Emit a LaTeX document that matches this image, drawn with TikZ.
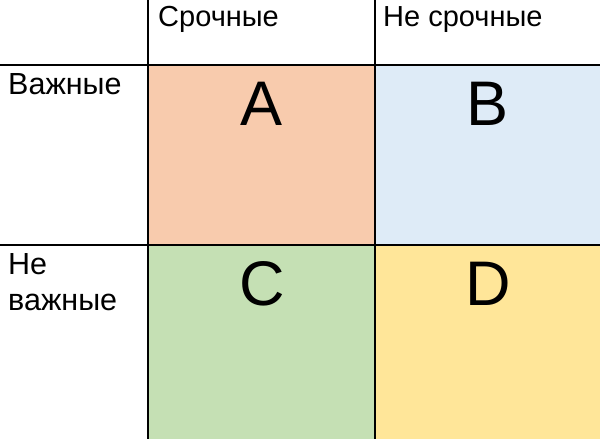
\documentclass[tikz,border=0pt]{standalone}
\usepackage{fontspec}
\setmainfont{Liberation Sans}
\definecolor{cA}{HTML}{F8CBAD}
\definecolor{cB}{HTML}{DEEBF7}
\definecolor{cC}{HTML}{C5E0B4}
\definecolor{cD}{HTML}{FFE699}
\tikzset{
  cell/.style={draw=none, inner sep=0pt, outer sep=0pt, anchor=north west},
  letter/.style={inner sep=0pt, anchor=base, font=\fontsize{63}{75}\selectfont},
  hlbl/.style={inner sep=0pt, anchor=base west, font=\fontsize{29}{36.7}\selectfont},
  rlbl/.style={inner sep=0pt, anchor=base west, align=left, font=\fontsize{30.5}{36.7}\selectfont},
  gridline/.style={draw=black, line width=1.1pt}
}
\begin{document}
\begin{tikzpicture}[x=1pt,y=-1pt]
\useasboundingbox[fill=white] (0,0) rectangle (600,439);
\node[cell, fill=cA, minimum width=227pt, minimum height=180pt] (A) at (148,65) {};
\node[cell, fill=cB, minimum width=225pt, minimum height=180pt] (B) at (375,65) {};
\node[cell, fill=cC, minimum width=227pt, minimum height=194pt] (C) at (148,245) {};
\node[cell, fill=cD, minimum width=225pt, minimum height=194pt] (D) at (375,245) {};
\draw[gridline] (148,0) -- (148,439);
\draw[gridline] (375,0) -- (375,439);
\draw[gridline] (0,65) -- (600,65);
\draw[gridline] (0,245) -- (600,245);
\node[letter] (la) at (262,125) {A};
\node[letter] (lb) at (488,125) {B};
\node[letter] (lc) at (262,305.5) {C};
\node[letter] (ld) at (488,305.5) {D};
\node[hlbl] (h1) at (158,26.7) {Срочные};
\node[hlbl] (h2) at (383,26.7) {Не срочные};
\node[rlbl] (r1) at (8,94) {Важные};
\node[rlbl] (r2) at (8,310.7) {Не\\важные};
\end{tikzpicture}
\end{document}
